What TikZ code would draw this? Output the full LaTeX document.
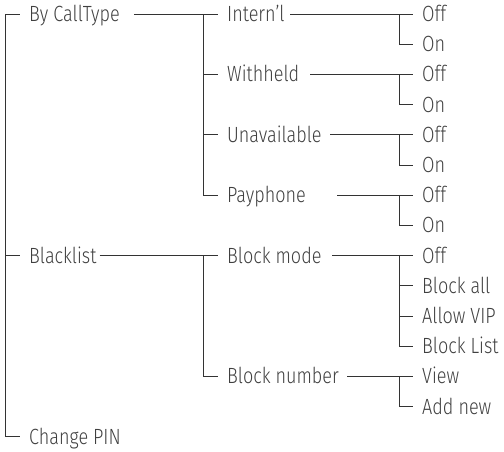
\documentclass[tikz,border=0pt]{standalone}
\usepackage{fontspec}
\setmainfont{Fira Sans Light}[FakeStretch=0.82]
\begin{document}
\begin{tikzpicture}[x=1pt,y=-1pt,
  every node/.style={anchor=west,inner xsep=9pt,inner ysep=0pt,text height=15pt,text depth=0pt,
    font=\fontsize{22}{22}\selectfont,text=txt},
  lnk/.style={draw=lin,line width=0.9pt}]
\definecolor{txt}{HTML}{404040}
\definecolor{lin}{HTML}{333333}
\useasboundingbox (0,0) rectangle (504,451);
\def\r#1{\fpeval{14+30.2*#1}}
% level 1
\node (ct) at (20,{\r{0}}) {By CallType};
\node (bl) at (20,{\r{8}}) {Blacklist};
\node (pin) at (20,{\r{14}}) {Change PIN};
% level 2
\node (in) at (218,{\r{0}}) {Intern'l};
\node (wh) at (218,{\r{2}}) {Withheld};
\node (un) at (218,{\r{4}}) {Unavailable};
\node (pp) at (218,{\r{6}}) {Payphone};
\node (bm) at (218,{\r{8}}) {Block mode};
\node (bn) at (218,{\r{12}}) {Block number};
% level 3
\node (in1) at (413,{\r{0}}) {Off};
\node (in2) at (413,{\r{1}}) {On};
\node (wh1) at (413,{\r{2}}) {Off};
\node (wh2) at (413,{\r{3}}) {On};
\node (un1) at (413,{\r{4}}) {Off};
\node (un2) at (413,{\r{5}}) {On};
\node (pp1) at (413,{\r{6}}) {Off};
\node (pp2) at (413,{\r{7}}) {On};
\node (bm1) at (413,{\r{8}}) {Off};
\node (bm2) at (413,{\r{9}}) {Block all};
\node (bm3) at (413,{\r{10}}) {Allow VIP};
\node (bm4) at (413,{\r{11}}) {Block List};
\node (bn1) at (413,{\r{12}}) {View};
\node (bn2) at (413,{\r{13}}) {Add new};
% root tree
\draw[lnk] (ct.west -| 5,0) -- (pin.west -| 5,0);
\foreach \n in {ct,bl,pin} \draw[lnk] (\n.west -| 5,0) -- (\n.west);
% level 2 trees
\draw[lnk] (in.west -| 203,0) -- (pp.west -| 203,0);
\draw[lnk] (bm.west -| 203,0) -- (bn.west -| 203,0);
\foreach \n in {in,wh,un,pp,bm,bn} \draw[lnk] (\n.west -| 203,0) -- (\n.west);
\draw[lnk] ([xshift=5pt]ct.east) -- (in.west);
\draw[lnk] ([xshift=-6pt]bl.east) -- (bm.west);
% level 3 trees
\foreach \a/\b in {in1/in2,wh1/wh2,un1/un2,pp1/pp2,bm1/bm4,bn1/bn2}
  \draw[lnk] (\a.west -| 399,0) -- (\b.west -| 399,0);
\foreach \n in {in1,in2,wh1,wh2,un1,un2,pp1,pp2,bm1,bm2,bm3,bm4,bn1,bn2}
  \draw[lnk] (\n.west -| 399,0) -- (\n.west);
\draw[lnk] (in.west -| 290,0) -- (in1.west);
\draw[lnk] (wh.west -| 310,0) -- (wh1.west);
\draw[lnk] (un.west -| 330,0) -- (un1.west);
\draw[lnk] (pp.west -| 337,0) -- (pp1.west);
\draw[lnk] (bm.west -| 332,0) -- (bm1.west);
\draw[lnk] (bn.west -| 347,0) -- (bn1.west);
\end{tikzpicture}
\end{document}
